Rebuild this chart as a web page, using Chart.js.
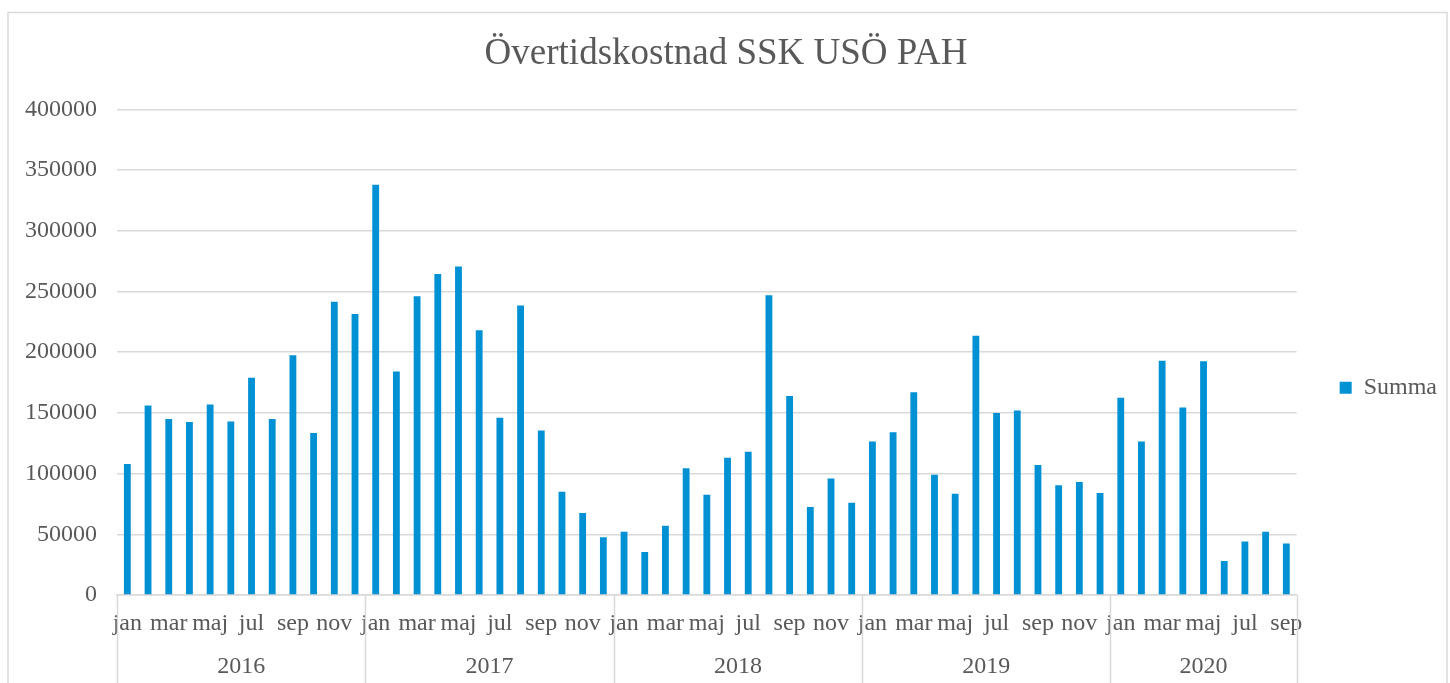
<!DOCTYPE html>
<html>
<head>
<meta charset="utf-8">
<script src="https://cdn.jsdelivr.net/npm/chart.js@4/dist/chart.umd.min.js"></script>
<style>
  html, body { margin: 0; padding: 0; background: #ffffff; }
  #wrap { width: 1450px; height: 683px; position: relative; }
</style>
</head>
<body>
<div id="wrap"><canvas id="c" width="1450" height="683"></canvas></div>
<script>
const titleText = 'Övertidskostnad SSK USÖ PAH';
const seriesName = 'Summa';
const monthNames = ['jan','feb','mar','apr','maj','jun','jul','aug','sep','okt','nov','dec'];
const years = ['2016','2017','2018','2019','2020'];
const monthsPerYear = [12, 12, 12, 12, 9];
const values2016 = [108000,156000,145000,142500,157000,143000,179000,145000,197500,133500,241500,231500];
const values2017 = [338000,184000,246000,264500,270500,218000,146000,238500,135500,85000,67500,47500];
const values2018 = [52000,35500,57000,104500,82500,113000,118000,247000,164000,72500,96000,76000];
const values2019 = [126500,134000,167000,99000,83500,213500,150000,152000,107000,90500,93000,84000];
const values2020 = [162500,126500,193000,154500,192500,28000,44000,52000,42500];
const yTicks = [0,50000,100000,150000,200000,250000,300000,350000,400000];

const labels = [];
years.forEach((y, yi) => { for (let m = 0; m < monthsPerYear[yi]; m++) labels.push(monthNames[m]); });
const data = [].concat(values2016, values2017, values2018, values2019, values2020);

const textColor = '#595959';
const gridColor = '#d9d9d9';
const serif = "'Liberation Serif', 'Times New Roman', serif";

const frame = {
  id: 'frame',
  beforeDraw(chart) {
    const ctx = chart.ctx;
    ctx.save();
    ctx.strokeStyle = '#d9d9d9';
    ctx.lineWidth = 1.5;
    ctx.strokeRect(8, 12.5, 1439, 700);
    ctx.restore();
  }
};

const yearGroups = {
  id: 'yearGroups',
  afterDraw(chart) {
    const x = chart.scales.x;
    const ctx = chart.ctx;
    const n = labels.length;
    const boundary = (i) => {
      if (i <= 0) return x.left;
      if (i >= n) return x.right;
      return (x.getPixelForValue(i - 1) + x.getPixelForValue(i)) / 2;
    };
    ctx.save();
    ctx.strokeStyle = gridColor;
    ctx.lineWidth = 1.5;
    ctx.fillStyle = textColor;
    ctx.font = '24px ' + serif;
    ctx.textAlign = 'center';
    ctx.textBaseline = 'middle';
    let start = 0;
    const bounds = [boundary(0)];
    years.forEach((y, yi) => {
      const end = start + monthsPerYear[yi];
      const l = boundary(start), r = boundary(end);
      bounds.push(r);
      ctx.fillText(y, (l + r) / 2, x.top + 72);
      start = end;
    });
    bounds.forEach(b => {
      ctx.beginPath();
      ctx.moveTo(Math.round(b) + 0.5, x.top);
      ctx.lineTo(Math.round(b) + 0.5, chart.height);
      ctx.stroke();
    });
    ctx.restore();
  }
};

new Chart(document.getElementById('c'), {
  type: 'bar',
  data: {
    labels: labels,
    datasets: [{
      label: seriesName,
      data: data,
      backgroundColor: '#0091d5',
      borderWidth: 0,
      categoryPercentage: 1.0,
      barPercentage: 0.33
    }]
  },
  options: {
    responsive: false,
    animation: false,
    devicePixelRatio: 1,
    layout: { padding: { left: 5, right: 3, top: 0, bottom: 0 } },
    plugins: {
      title: {
        display: true,
        text: titleText,
        color: textColor,
        font: { family: serif, size: 37, weight: 'normal' },
        padding: { top: 32, bottom: 33 }
      },
      legend: {
        position: 'right',
        title: { display: true, text: '', padding: { top: 39, bottom: 39 } },
        labels: {
          color: textColor,
          font: { family: serif, size: 24 },
          boxWidth: 12,
          boxHeight: 12,
          padding: 43
        }
      },
      tooltip: { enabled: false }
    },
    scales: {
      x: {
        grid: { display: false, drawTicks: false },
        border: { display: true, color: gridColor, width: 1.5 },
        ticks: {
          color: textColor,
          font: { family: serif, size: 24 },
          autoSkip: false,
          maxRotation: 0,
          minRotation: 0,
          padding: 14,
          callback: function (v, i) { return i % 2 === 0 ? this.getLabelForValue(v) : ''; }
        },
        afterFit(scale) { scale.height = 88; }
      },
      y: {
        min: 0,
        max: 400000,
        afterBuildTicks(scale) { scale.ticks = yTicks.map(v => ({ value: v })); },
        grid: { color: gridColor, lineWidth: 1.5, drawTicks: false },
        border: { display: false },
        ticks: {
          color: textColor,
          font: { family: serif, size: 24 },
          padding: 20,
          callback: (v) => String(v)
        }
      }
    }
  },
  plugins: [frame, yearGroups]
});
</script>
</body>
</html>
